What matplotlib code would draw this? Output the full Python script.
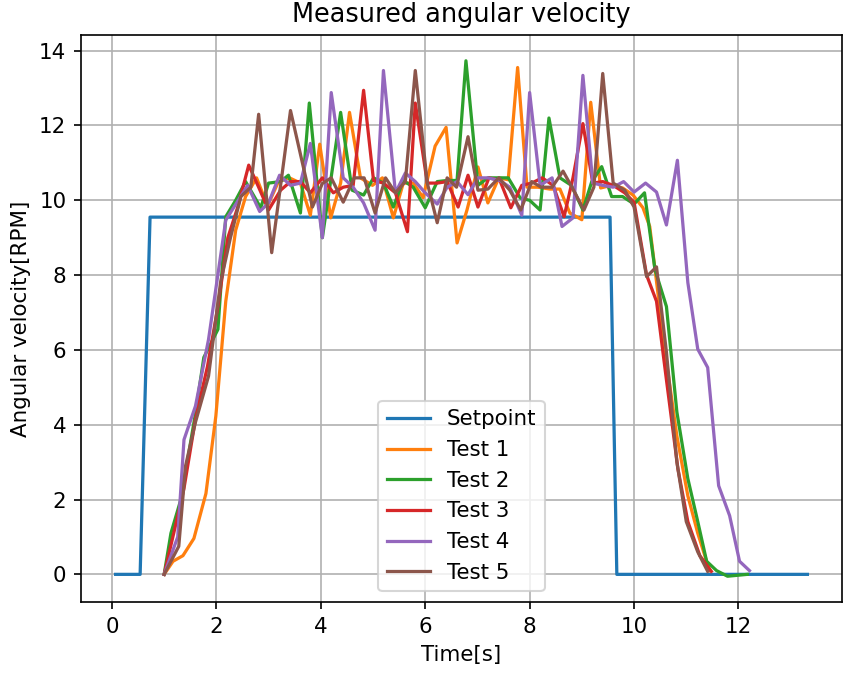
import matplotlib
matplotlib.use("Agg")
import matplotlib.pyplot as plt

# Setpoint
t_sp = [0.07, 0.54, 0.73, 9.54, 9.67, 13.32]
v_sp = [0.0, 0.0, 9.55, 9.55, 0.0, 0.0]

# Test 1
t1 = [1.0, 1.17, 1.36, 1.57, 1.8, 1.99, 2.18, 2.37, 2.56, 2.77, 2.98, 3.19, 3.4, 3.61, 3.8,
      3.98, 4.19, 4.38, 4.55, 4.76, 4.99, 5.18, 5.39, 5.58, 5.77, 5.96, 6.19, 6.4, 6.61, 6.8,
      7.01, 7.2, 7.41, 7.59, 7.77, 7.95, 8.16, 8.39, 8.58, 8.77, 9.0, 9.17, 9.36, 9.57, 9.78,
      9.98, 10.17, 10.3, 10.45, 10.62, 10.82, 11.03, 11.22, 11.4, 11.45]
v1 = [0.0, 0.35, 0.5, 0.96, 2.16, 4.23, 7.3, 9.2, 10.1, 10.6, 9.85, 10.5, 10.6, 10.46, 9.6,
      11.5, 9.53, 10.46, 12.35, 10.6, 10.4, 10.6, 9.53, 10.46, 10.46, 10.07, 11.45, 11.95, 8.86, 9.74,
      10.89, 9.93, 10.6, 10.55, 13.55, 10.35, 10.35, 10.3, 10.3, 9.66, 9.48, 12.62, 10.33, 10.4, 10.33,
      10.14, 9.8, 9.3, 7.6, 5.7, 3.7, 2.1, 1.1, 0.3, 0.1]

# Test 2
t2 = [1.0, 1.13, 1.32, 1.6, 1.76, 2.03, 2.18, 2.37, 2.56, 2.85, 3.0, 3.23, 3.38, 3.61, 3.78,
      4.03, 4.38, 4.6, 4.82, 5.01, 5.2, 5.39, 5.58, 5.77, 6.0, 6.23, 6.42, 6.61, 6.78, 7.01,
      7.2, 7.4, 7.59, 7.82, 8.0, 8.2, 8.37, 8.58, 8.8, 9.02, 9.19, 9.38, 9.57, 9.78, 10.0,
      10.2, 10.4, 10.62, 10.82, 11.03, 11.22, 11.39, 11.58, 11.79, 12.17]
v2 = [0.0, 1.1, 2.0, 4.3, 5.8, 6.55, 9.56, 10.0, 10.5, 9.8, 10.46, 10.5, 10.67, 9.66, 12.6,
      9.0, 12.35, 10.27, 10.14, 10.6, 10.46, 9.82, 10.53, 10.35, 9.8, 10.5, 10.53, 10.53, 13.73, 10.4,
      10.6, 10.6, 10.6, 10.06, 10.0, 9.74, 12.2, 10.6, 10.4, 9.74, 10.5, 10.9, 10.1, 10.1, 9.9,
      10.2, 8.15, 7.16, 4.34, 2.56, 1.41, 0.35, 0.1, -0.05, 0.0]

# Test 3
t3 = [1.0, 1.19, 1.38, 1.6, 1.83, 2.03, 2.22, 2.41, 2.62, 2.81, 3.0, 3.23, 3.42, 3.61, 3.8,
      4.03, 4.24, 4.43, 4.62, 4.82, 5.01, 5.2, 5.43, 5.66, 5.81, 6.04, 6.23, 6.42, 6.63, 6.82,
      7.01, 7.22, 7.43, 7.64, 7.85, 8.04, 8.24, 8.45, 8.66, 8.83, 9.02, 9.21, 9.4, 9.6, 9.82,
      10.0, 10.24, 10.43, 10.62, 10.84, 11.03, 11.26, 11.48]
v3 = [0.0, 1.14, 2.3, 4.15, 5.56, 7.16, 9.0, 9.82, 10.94, 10.35, 9.74, 10.27, 10.5, 10.5, 10.2,
      10.6, 10.2, 10.35, 10.4, 12.94, 10.53, 10.46, 10.2, 9.16, 12.6, 10.46, 10.46, 10.5, 9.82, 10.67,
      9.82, 10.6, 10.53, 9.8, 10.4, 10.46, 10.6, 10.4, 9.56, 10.6, 12.05, 10.46, 10.5, 10.4, 10.2,
      9.95, 8.0, 7.3, 5.2, 2.82, 1.41, 0.5, 0.08]

# Test 4
t4 = [1.0, 1.26, 1.38, 1.6, 1.85, 2.18, 2.6, 2.83, 3.0, 3.21, 3.42, 3.61, 3.8, 4.03, 4.2,
      4.43, 4.62, 4.82, 5.04, 5.2, 5.43, 5.62, 5.81, 6.0, 6.23, 6.42, 6.61, 6.82, 7.01, 7.2,
      7.43, 7.62, 7.85, 8.0, 8.2, 8.43, 8.62, 8.83, 9.02, 9.21, 9.4, 9.6, 9.8, 10.0, 10.22,
      10.43, 10.62, 10.83, 11.03, 11.22, 11.41, 11.62, 11.83, 12.02, 12.21]
v4 = [0.0, 1.0, 3.6, 4.5, 6.28, 9.47, 10.4, 9.7, 9.93, 10.67, 10.4, 10.46, 11.52, 9.0, 12.88,
      10.6, 10.35, 9.93, 9.2, 13.47, 10.2, 10.73, 10.5, 10.2, 9.9, 10.35, 10.5, 10.15, 10.6, 10.6,
      10.53, 10.35, 9.6, 12.88, 10.4, 10.6, 9.3, 9.53, 13.34, 10.46, 10.4, 10.35, 10.5, 10.22, 10.46,
      10.22, 9.34, 11.07, 7.8, 6.02, 5.53, 2.37, 1.57, 0.35, 0.1]

# Test 5
t5 = [1.0, 1.28, 1.41, 1.6, 1.85, 2.08, 2.27, 2.47, 2.66, 2.81, 3.06, 3.42, 3.84, 4.03, 4.2,
      4.43, 4.64, 4.83, 5.04, 5.24, 5.43, 5.62, 5.81, 6.04, 6.23, 6.42, 6.6, 6.82, 7.01, 7.2,
      7.41, 7.62, 7.83, 8.04, 8.22, 8.43, 8.64, 8.83, 9.04, 9.23, 9.4, 9.6, 9.82, 10.0, 10.24,
      10.43, 10.62, 10.82, 11.0, 11.22, 11.41]
v5 = [0.0, 0.75, 2.9, 4.07, 5.3, 7.8, 9.0, 10.1, 10.35, 12.3, 8.6, 12.4, 9.82, 10.45, 10.6,
      9.95, 10.6, 10.6, 9.66, 10.6, 10.2, 10.5, 13.47, 10.46, 9.4, 10.6, 10.35, 11.7, 10.27, 10.3,
      10.6, 10.27, 9.74, 10.5, 10.35, 10.35, 10.78, 10.3, 9.74, 10.35, 13.39, 10.46, 10.27, 9.82, 7.96,
      8.22, 5.94, 3.0, 1.41, 0.6, 0.08]

labels = ["Setpoint", "Test 1", "Test 2", "Test 3", "Test 4", "Test 5"]

series = [(t_sp, v_sp), (t1, v1), (t2, v2), (t3, v3), (t4, v4), (t5, v5)]
for t, v in series:
    assert len(t) == len(v), (len(t), len(v))

plt.rcParams["font.size"] = 10.25
plt.rcParams["axes.titlesize"] = 12.3

fig = plt.figure(figsize=(849 / 150, 673 / 150), dpi=150)
ax = fig.add_axes([81 / 849, 1 - 602 / 673, 761 / 849, 567 / 673])

for (t, v), lab in zip(series, labels):
    ax.plot(t, v, label=lab, linewidth=1.55)

ax.set_title("Measured angular velocity")
ax.set_xlabel("Time[s]")
ax.set_ylabel("Angular velocity[RPM]")
ax.grid(True)
ax.legend(loc="lower center")

fig.savefig("out.png", dpi=150)
